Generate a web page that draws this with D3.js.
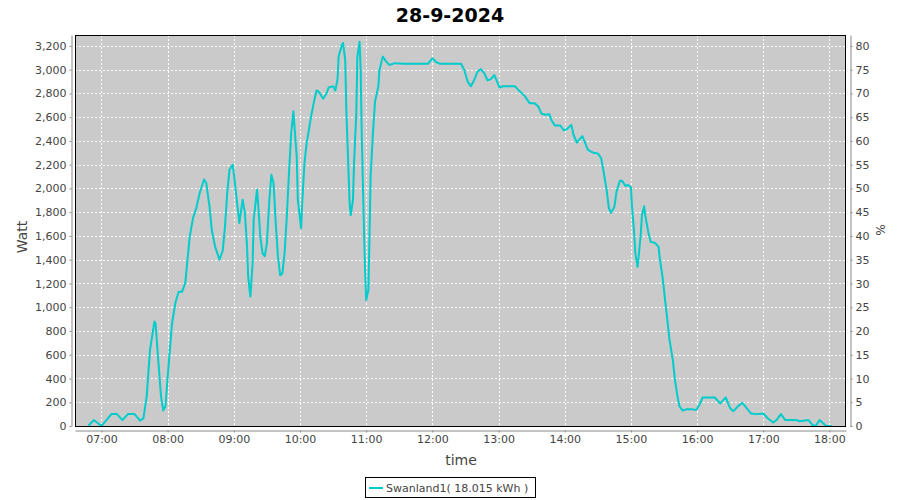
<!DOCTYPE html>
<html>
<head>
<meta charset="utf-8">
<script src="https://cdn.jsdelivr.net/npm/d3@7"></script>
<style>
  html, body { margin: 0; padding: 0; background: #ffffff; }
  svg { display: block; font-family: "DejaVu Sans", sans-serif; }
</style>
</head>
<body>
<svg id="chart" width="900" height="500"></svg>
<script>
// ---- data ----
const chartTitle = "28-9-2024";
const seriesName = "Swanland1( 18.015 kWh )";
const times = [
  "06:48","06:53","07:00","07:09","07:14","07:19","07:24","07:30","07:35","07:38",
  "07:41","07:44","07:48","07:49","07:51","07:54","07:56","07:58","08:01","08:04",
  "08:07","08:10","08:13","08:16","08:18","08:20","08:23","08:26","08:29","08:33",
  "08:35","08:38","08:40","08:43","08:47","08:50","08:52","08:54","08:56","08:59",
  "09:01","09:03","09:05","09:08","09:10","09:12","09:13","09:15","09:17","09:18",
  "09:21","09:22","09:24","09:26","09:28","09:30","09:32","09:34","09:36","09:38",
  "09:40","09:42","09:44","09:46","09:48","09:50","09:52","09:54","09:55","09:57",
  "09:58","10:01","10:02","10:04","10:06","10:08","10:10","10:13","10:15","10:17",
  "10:21","10:24","10:26","10:30","10:32","10:34","10:35","10:38","10:39","10:41",
  "10:42","10:44","10:45","10:46","10:48","10:49","10:51","10:52","10:54","10:55",
  "10:56","10:58","10:59","11:00","11:02","11:03","11:04","11:06","11:08","11:11",
  "11:12","11:15","11:18","11:21","11:26","11:34","11:56","12:00","12:04","12:07",
  "12:26","12:29","12:32","12:35","12:38","12:41","12:44","12:47","12:50","12:53",
  "12:56","12:58","13:01","13:04","13:15","13:19","13:24","13:28","13:33","13:36",
  "13:39","13:42","13:46","13:48","13:51","13:56","13:59","14:02","14:06","14:08",
  "14:11","14:13","14:16","14:18","14:21","14:26","14:30","14:33","14:35","14:38",
  "14:40","14:42","14:45","14:47","14:50","14:52","14:55","14:57","15:00","15:01",
  "15:03","15:04","15:06","15:07","15:09","15:10","15:12","15:13","15:16","15:18",
  "15:22","15:25","15:26","15:29","15:31","15:33","15:35","15:38","15:40","15:42",
  "15:44","15:47","15:50","15:56","15:59","16:02","16:05","16:10","16:16","16:21",
  "16:26","16:30","16:33","16:37","16:41","16:45","16:49","16:54","17:00","17:04",
  "17:09","17:12","17:16","17:20","17:30","17:33","17:41","17:45","17:48","17:51",
  "17:57","18:02"
];
const watts = [
  0,50,0,100,100,50,100,100,45,65,
  250,640,880,865,615,250,130,165,530,865,
  1035,1130,1130,1205,1400,1595,1750,1835,1960,2075,
  2045,1845,1650,1510,1400,1480,1680,1960,2155,2200,
  2045,1875,1710,1905,1795,1510,1257,1090,1370,1735,
  1990,1875,1595,1455,1430,1540,1875,2115,2045,1705,
  1425,1270,1285,1455,1760,2130,2465,2650,2520,2270,
  1905,1665,1875,2210,2380,2490,2605,2745,2825,2815,
  2755,2800,2850,2860,2825,2915,3110,3210,3225,3080,
  2660,2130,1875,1775,1905,2210,2630,3110,3235,2995,
  2435,1650,1315,1060,1145,1595,2100,2450,2730,2860,
  2995,3110,3070,3040,3055,3050,3050,3095,3060,3050,
  3050,2995,2900,2860,2915,2985,3005,2970,2910,2920,
  2955,2915,2850,2860,2860,2820,2775,2720,2715,2690,
  2630,2620,2625,2575,2530,2530,2490,2500,2535,2450,
  2385,2410,2440,2395,2325,2300,2295,2255,2155,1985,
  1835,1795,1845,1975,2065,2065,2020,2030,2010,1845,
  1620,1455,1340,1425,1620,1775,1850,1775,1620,1550,
  1540,1510,1425,1230,1060,895,725,555,385,260,
  165,130,140,140,135,175,240,240,240,190,
  240,150,125,165,195,150,105,100,105,65,
  30,50,100,50,50,40,50,5,5,50,
  0,0
];
const xTickLabels = ["07:00","08:00","09:00","10:00","11:00","12:00","13:00","14:00","15:00","16:00","17:00","18:00"];
const wattTicks = [0,200,400,600,800,1000,1200,1400,1600,1800,2000,2200,2400,2600,2800,3000,3200];
const pctTicks = [0,5,10,15,20,25,30,35,40,45,50,55,60,65,70,75,80];
const xDomain = ["06:36","18:15"];
const wattMax = 3292;
const yLabel = "Watt", y2Label = "%", xLabel = "time";

// ---- layout ----
const svg = d3.select("#chart");
const L = 75, R = 846, T = 35, B = 426;
const parse = d3.timeParse("%H:%M");
const x = d3.scaleTime().domain(xDomain.map(parse)).range([L, R]);
const y = d3.scaleLinear().domain([0, wattMax]).range([B, T]);
const y2 = d3.scaleLinear().domain([0, wattMax / 40]).range([B, T]);

const textColor = "#444444";
const axisColor = "#888888";

// plot background
svg.append("rect").attr("x", L).attr("y", T).attr("width", R - L).attr("height", B - T)
  .attr("fill", "#cacaca");

// gridlines
const grid = svg.append("g");
grid.selectAll("line.h").data(wattTicks).join("line")
  .attr("x1", L).attr("x2", R)
  .attr("y1", d => Math.round(y(d)) + 0.5).attr("y2", d => Math.round(y(d)) + 0.5)
  .attr("stroke", "#ffffff").attr("stroke-dasharray", "2,2");
grid.selectAll("line.v").data(xTickLabels).join("line")
  .attr("y1", T).attr("y2", B)
  .attr("x1", d => Math.round(x(parse(d))) + 0.5).attr("x2", d => Math.round(x(parse(d))) + 0.5)
  .attr("stroke", "#ffffff").attr("stroke-dasharray", "2,2");

// clip
svg.append("clipPath").attr("id", "clip").append("rect")
  .attr("x", L).attr("y", T).attr("width", R - L).attr("height", B - T);

// line
const data = times.map((t, i) => ({ t: parse(t), w: watts[i] }));
svg.append("path").datum(data)
  .attr("clip-path", "url(#clip)")
  .attr("fill", "none").attr("stroke", "#00cccc").attr("stroke-width", 2)
  .attr("stroke-linejoin", "round")
  .attr("d", d3.line().x(d => x(d.t)).y(d => y(d.w)));

// plot border
svg.append("rect").attr("x", L + 0.5).attr("y", T + 0.5).attr("width", R - L - 1).attr("height", B - T)
  .attr("fill", "none").attr("stroke", "#000000").attr("stroke-width", 1);

function styleAxis(g) {
  g.select(".domain").attr("stroke", axisColor);
  g.selectAll(".tick line").attr("stroke", axisColor);
  g.selectAll(".tick text").attr("fill", textColor).attr("font-size", 11)
    .attr("font-family", "DejaVu Sans, sans-serif");
}

// left axis
const gl = svg.append("g").attr("transform", `translate(${L - 3.5},0)`)
  .call(d3.axisLeft(y).tickValues(wattTicks).tickFormat(d3.format(",")).tickSizeInner(2).tickSizeOuter(0).tickPadding(3));
styleAxis(gl);

// right axis
const gr = svg.append("g").attr("transform", `translate(${R + 4.5},0)`)
  .call(d3.axisRight(y2).tickValues(pctTicks).tickFormat(d3.format("d")).tickSizeInner(2).tickSizeOuter(0).tickPadding(3));
styleAxis(gr);

// bottom axis
const gb = svg.append("g").attr("transform", `translate(0,${B + 4.5})`)
  .call(d3.axisBottom(x).tickValues(xTickLabels.map(parse)).tickFormat((d, i) => xTickLabels[i]).tickSizeInner(2).tickSizeOuter(0).tickPadding(3));
styleAxis(gb);

// title
svg.append("text").attr("x", 450).attr("y", 22).attr("text-anchor", "middle")
  .attr("font-size", 19).attr("font-weight", "bold").attr("fill", "#000000").text(chartTitle);

// axis labels
svg.append("text").attr("transform", "translate(27,237) rotate(-90)").attr("text-anchor", "middle")
  .attr("font-size", 14).attr("fill", textColor).text(yLabel);
svg.append("text").attr("transform", "translate(876,230) rotate(90)").attr("text-anchor", "middle")
  .attr("font-size", 12).attr("fill", textColor).text(y2Label);
svg.append("text").attr("x", 461).attr("y", 465).attr("text-anchor", "middle")
  .attr("font-size", 14).attr("fill", textColor).text(xLabel);

// legend
const lg = svg.append("g");
lg.append("rect").attr("x", 365.5).attr("y", 477.5).attr("width", 170).attr("height", 20)
  .attr("fill", "#ffffff").attr("stroke", "#000000");
lg.append("line").attr("x1", 369).attr("x2", 383).attr("y1", 488).attr("y2", 488)
  .attr("stroke", "#00cccc").attr("stroke-width", 2);
lg.append("text").attr("x", 386).attr("y", 492).attr("font-size", 11).attr("fill", textColor).text(seriesName);
</script>
</body>
</html>
